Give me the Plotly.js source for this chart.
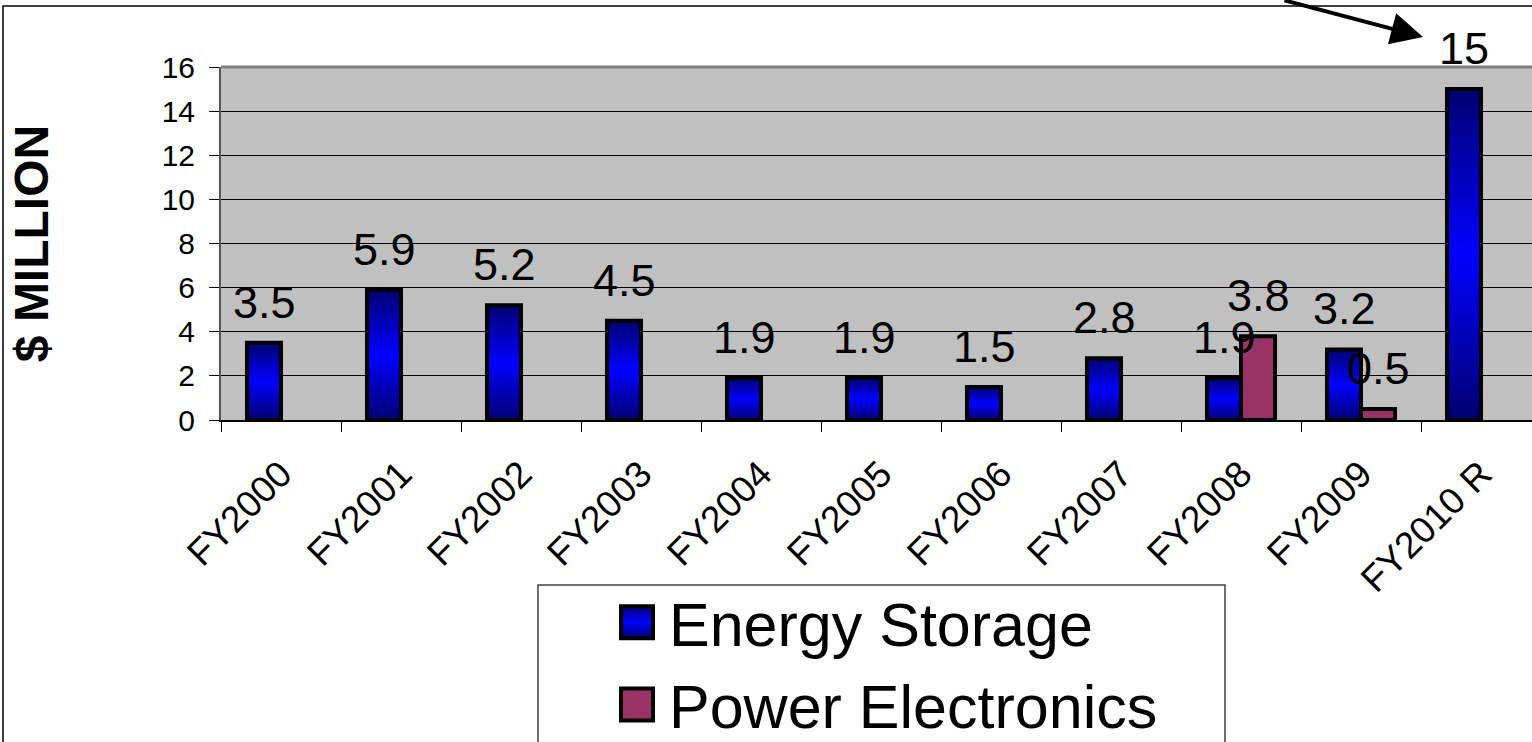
<!DOCTYPE html>
<html>
<head>
<meta charset="utf-8">
<script src="https://cdn.plot.ly/plotly-3.0.1.min.js"></script>
<style>
  html, body { margin: 0; padding: 0; background: #ffffff; }
  #chart { width: 1532px; height: 742px; }
</style>
</head>
<body>
<div id="chart"></div>
<script>
// ---- data ----
const categories = ['FY2000', 'FY2001', 'FY2002', 'FY2003', 'FY2004', 'FY2005',
                    'FY2006', 'FY2007', 'FY2008', 'FY2009', 'FY2010 R'];
const energyStorage = [3.5, 5.9, 5.2, 4.5, 1.9, 1.9, 1.5, 2.8, 1.9, 3.2, 15];
const powerElectronics = [null, null, null, null, null, null, null, null, 3.8, 0.5, null];
const seriesNames = ['Energy Storage', 'Power Electronics'];
const yTickValues = [0, 2, 4, 6, 8, 10, 12, 14, 16];
const yTitle = '$ MILLION';

const FONT = 'Arial, "Liberation Sans", sans-serif';

const traces = [
  { type: 'bar', name: seriesNames[0], x: categories, y: energyStorage,
    marker: { color: '#0000C8', line: { color: '#000000', width: 4 } } },
  { type: 'bar', name: seriesNames[1], x: categories, y: powerElectronics,
    marker: { color: '#993366', line: { color: '#000000', width: 4 } } }
];

// value labels above the bars, placed through the data axes
const labelShift = [-17, 17];   // half a bar width left / right inside each group
const valueLabels = [];
[energyStorage, powerElectronics].forEach((series, s) => {
  series.forEach((v, i) => {
    if (v === null) return;
    valueLabels.push({
      xref: 'x', yref: 'y', x: categories[i], y: v,
      xshift: labelShift[s], yshift: 13, yanchor: 'bottom', xanchor: 'center',
      showarrow: false, text: String(v),
      font: { family: FONT, size: 45, color: '#000000' }
    });
  });
});

// pixel helpers for paper placement (plot area: left 221, right 1532, top 67, bottom 420)
const PL = 221, PR = 1532, PT = 67, PB = 420;
const px = v => (v - PL) / (PR - PL);
const py = v => (PB - v) / (PB - PT);

const layout = {
  width: 1532, height: 742,
  margin: { l: PL, r: 1532 - PR, t: PT, b: 742 - PB, autoexpand: false },
  paper_bgcolor: '#ffffff',
  plot_bgcolor: '#C0C0C0',
  barmode: 'group',
  bargap: 0.433,
  bargroupgap: 0,
  font: { family: FONT, color: '#000000' },
  showlegend: true,
  legend: {
    x: px(599), y: py(576), xanchor: 'left', yanchor: 'top',
    bgcolor: 'rgba(0,0,0,0)', borderwidth: 0,
    font: { family: FONT, size: 61, color: '#000000' },
    itemwidth: 60, tracegroupgap: 0
  },
  xaxis: {
    type: 'category',
    range: [-0.5, -0.5 + (PR - PL) / 120],
    tickson: 'boundaries',
    ticks: 'outside', ticklen: 10, tickwidth: 1, tickcolor: '#000000',
    ticklabelstandoff: 16,
    showline: true, linecolor: '#000000', linewidth: 1.5,
    showgrid: false,
    tickangle: -45,
    tickfont: { family: FONT, size: 37, color: '#000000' }
  },
  yaxis: {
    range: [0, 16],
    tickvals: yTickValues,
    ticks: 'outside', ticklen: 10, tickwidth: 1, tickcolor: '#000000',
    ticklabelstandoff: 8,
    showline: true, linecolor: '#555555', linewidth: 2,
    showgrid: true, gridcolor: '#000000', gridwidth: 1,
    zeroline: false,
    tickfont: { family: FONT, size: 30, color: '#000000' },
    title: { text: yTitle, font: { family: FONT, size: 48, color: '#000000', weight: 'bold' }, standoff: 98 }
  },
  shapes: [
    // plot-area top border
    { type: 'line', xref: 'paper', yref: 'paper', x0: 0, x1: 1, y0: 1, y1: 1,
      line: { color: '#808080', width: 3 }, layer: 'above' },
    // outer frame (top and left edges visible)
    { type: 'path', xref: 'paper', yref: 'paper',
      path: `M ${px(3)} ${py(760)} L ${px(3)} ${py(6)} L ${px(1540)} ${py(6)}`,
      line: { color: '#000000', width: 1.5 }, layer: 'above' },
    // legend box
    { type: 'rect', xref: 'paper', yref: 'paper',
      x0: px(538), x1: px(1225), y0: py(585), y1: py(760),
      line: { color: '#404040', width: 1.5 }, fillcolor: 'rgba(0,0,0,0)', layer: 'above' }
  ],
  annotations: valueLabels.concat([
    { xref: 'paper', yref: 'paper', x: px(1423), y: py(37), ax: -140, ay: -60,
      showarrow: true, arrowhead: 2, arrowsize: 1.6, arrowwidth: 4, arrowcolor: '#000000', text: '' }
  ])
};

function applyStyling(gd) {
  const ns = 'http://www.w3.org/2000/svg';
  const svg = gd.querySelector('.main-svg');
  let defs = svg.querySelector('defs');
  if (!defs) { defs = document.createElementNS(ns, 'defs'); svg.insertBefore(defs, svg.firstChild); }
  if (!document.getElementById('esGrad')) {
    const lg = document.createElementNS(ns, 'linearGradient');
    lg.setAttribute('id', 'esGrad');
    lg.setAttribute('x1', '0'); lg.setAttribute('y1', '0');
    lg.setAttribute('x2', '0'); lg.setAttribute('y2', '1');
    [['0', '#000070'], ['0.5', '#0000FF'], ['1', '#000070']].forEach(([o, c]) => {
      const s = document.createElementNS(ns, 'stop');
      s.setAttribute('offset', o); s.setAttribute('stop-color', c);
      lg.appendChild(s);
    });
    defs.appendChild(lg);
  }
  const barTraces = gd.querySelectorAll('.barlayer .trace');
  if (barTraces[0]) barTraces[0].querySelectorAll('.point path').forEach(p => { p.style.fill = 'url(#esGrad)'; });

  const items = gd.querySelectorAll('g.legendpoints');
  items.forEach((g, i) => {
    const p = g.querySelector('path');
    if (!p) return;
    const item = g.parentNode;
    const txt = item ? item.querySelector('text') : null;
    const tx = txt ? parseFloat(txt.getAttribute('x')) : 70;
    p.setAttribute('d', 'M16,16H-16V-16H16Z');
    p.setAttribute('transform', 'translate(' + (tx - 32) + ',0)');
    p.style.strokeWidth = '4px';
    p.style.stroke = '#000000';
    if (i === 0) p.style.fill = 'url(#esGrad)';
  });
}

Plotly.newPlot('chart', traces, layout, { displayModeBar: false, staticPlot: true })
  .then(gd => {
    applyStyling(gd);
    gd.on('plotly_afterplot', () => applyStyling(gd));
    setTimeout(() => applyStyling(gd), 50);
  });
</script>
</body>
</html>
